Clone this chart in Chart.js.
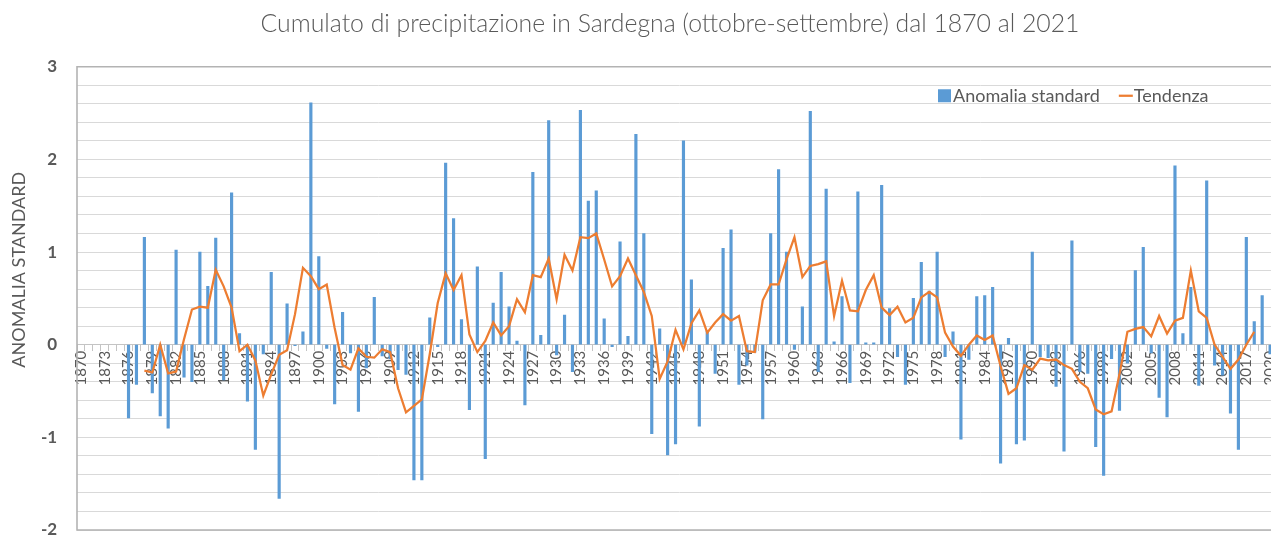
<!DOCTYPE html>
<html>
<head>
<meta charset="utf-8">
<script src="https://cdn.jsdelivr.net/npm/chart.js@4.4.0/dist/chart.umd.min.js"></script>
<style>
  html, body { margin: 0; padding: 0; background: #ffffff; overflow: hidden; }
  #wrap { width: 1340px; height: 547px; position: relative; }
</style>
</head>
<body>
<div id="wrap"><canvas id="c" width="1340" height="547"></canvas></div>
<script>
// ---------------- DATA ----------------
const years = [
  '1870','1871','1872','1873','1874','1875','1876','1877','1878','1879',
  '1880','1881','1882','1883','1884','1885','1886','1887','1888','1889',
  '1890','1891','1892','1893','1894','1895','1896','1897','1898','1899',
  '1900','1901','1902','1903','1904','1905','1906','1907','1908','1909',
  '1910','1911','1912','1913','1914','1915','1916','1917','1918','1919',
  '1920','1921','1922','1923','1924','1925','1926','1927','1928','1929',
  '1930','1931','1932','1933','1934','1935','1936','1937','1938','1939',
  '1940','1941','1942','1943','1944','1945','1946','1947','1948','1949',
  '1950','1951','1952','1953','1954','1955','1956','1957','1958','1959',
  '1960','1961','1962','1963','1964','1965','1966','1967','1968','1969',
  '1970','1971','1972','1973','1974','1975','1976','1977','1978','1979',
  '1980','1981','1982','1983','1984','1985','1986','1987','1988','1989',
  '1990','1991','1992','1993','1994','1995','1996','1997','1998','1999',
  '2000','2001','2002','2003','2004','2005','2006','2007','2008','2009',
  '2010','2011','2012','2013','2014','2015','2016','2017','2018','2019',
  '2020','2021'
];

// Anomalia standard, 1870 .. 2021 (null = no bar)
const anomaly = [
  null, null, null, null, null, null, -0.79, -0.43, 1.16, -0.52,
  -0.77, -0.90, 1.02, -0.35, -0.40, 1.00, 0.63, 1.15, -0.38, 1.64,
  0.12, -0.61, -1.13, -0.10, 0.78, -1.66, 0.44, -0.01, 0.14, 2.61,
  0.95, -0.04, -0.64, 0.35, -0.09, -0.72, -0.25, 0.51, -0.12, -0.15,
  -0.27, -0.32, -1.46, -1.46, 0.29, -0.02, 1.96, 1.36, 0.27, -0.70,
  0.84, -1.23, 0.45, 0.78, 0.41, 0.04, -0.65, 1.86, 0.10, 2.42,
  -0.11, 0.32, -0.29, 2.53, 1.55, 1.66, 0.28, -0.02, 1.11, 0.09,
  2.27, 1.20, -0.96, 0.17, -1.19, -1.07, 2.20, 0.70, -0.88, 0.15,
  -0.31, 1.04, 1.24, -0.43, -0.22, -0.08, -0.80, 1.20, 1.89, 1.00,
  -0.05, 0.41, 2.52, -0.29, 1.68, 0.03, 0.52, -0.41, 1.65, 0.02,
  0.02, 1.72, 0.39, -0.13, -0.43, 0.50, 0.89, 0.58, 1.00, -0.13,
  0.14, -1.02, -0.16, 0.52, 0.53, 0.62, -1.28, 0.07, -1.07, -1.03,
  1.00, -0.13, -0.14, -0.45, -1.15, 1.12, -0.29, -0.31, -1.10, -1.41,
  -0.15, -0.71, -0.20, 0.80, 1.05, -0.09, -0.57, -0.78, 1.93, 0.12,
  0.62, -0.44, 1.77, -0.22, -0.33, -0.74, -1.13, 1.16, 0.25, 0.53,
  -0.10, null
];

// Tendenza, 1870 .. 2021 (null = no point)
const trend = [
  null, null, null, null, null, null, null, null, -0.28, -0.30,
  0.00, -0.31, -0.29, 0.06, 0.38, 0.41, 0.40, 0.81, 0.63, 0.40,
  -0.07, 0.00, -0.17, -0.55, -0.32, -0.11, -0.06, 0.33, 0.83, 0.74,
  0.60, 0.65, 0.18, -0.22, -0.27, -0.04, -0.13, -0.14, -0.05, -0.08,
  -0.47, -0.73, -0.66, -0.59, -0.10, 0.45, 0.77, 0.59, 0.75, 0.11,
  -0.08, 0.04, 0.24, 0.10, 0.20, 0.49, 0.35, 0.75, 0.73, 0.93,
  0.49, 0.97, 0.80, 1.16, 1.15, 1.20, 0.92, 0.63, 0.74, 0.93,
  0.75, 0.57, 0.31, -0.37, -0.18, 0.16, -0.05, 0.23, 0.37, 0.13,
  0.24, 0.33, 0.26, 0.31, -0.07, -0.08, 0.48, 0.65, 0.65, 0.92,
  1.16, 0.73, 0.85, 0.87, 0.90, 0.31, 0.69, 0.37, 0.36, 0.59,
  0.75, 0.40, 0.32, 0.41, 0.24, 0.29, 0.51, 0.57, 0.51, 0.13,
  -0.02, -0.12, 0.00, 0.10, 0.05, 0.10, -0.23, -0.53, -0.47, -0.22,
  -0.27, -0.15, -0.17, -0.16, -0.22, -0.26, -0.40, -0.47, -0.70, -0.75,
  -0.72, -0.32, 0.14, 0.17, 0.19, 0.09, 0.31, 0.12, 0.26, 0.29,
  0.80, 0.36, 0.29, 0.00, -0.13, -0.26, -0.16, 0.00, 0.14, null,
  null, null
];

// Category labels that are printed on the x axis
const xTickLabels = [
  '1870','1873','1876','1879','1882','1885','1888','1891','1894','1897',
  '1900','1903','1906','1909','1912','1915','1918','1921','1924','1927',
  '1930','1933','1936','1939','1942','1945','1948','1951','1954','1957',
  '1960','1963','1966','1969','1972','1975','1978','1981','1984','1987',
  '1990','1993','1996','1999','2002','2005','2008','2011','2014','2017',
  '2020'
];
// Values printed on the y axis
const yTickLabels = [3, 2, 1, 0, -1, -2];

const titleText = 'Cumulato di precipitazione in Sardegna (ottobre-settembre) dal 1870 al 2021';
const yAxisTitle = 'ANOMALIA STANDARD';
const seriesBarName = 'Anomalia standard';
const seriesLineName = 'Tendenza';

// ---------------- STYLE ----------------
const TXT = '#595959';
const FONT = 'Lato, "Open Sans", "Liberation Sans", sans-serif';
const BLUE = '#5b9bd5';
const ORANGE = '#ed7d31';

// frame around plot area (left, top, bottom; right side lies outside the visible page)
const framePlugin = {
  id: 'frame',
  afterDraw(chart) {
    const {ctx, chartArea: a} = chart;
    ctx.save();
    ctx.strokeStyle = '#b3b3b3';
    ctx.lineWidth = 1.6;
    ctx.beginPath();
    ctx.moveTo(a.right, a.top);
    ctx.lineTo(a.left, a.top);
    ctx.lineTo(a.left, a.bottom);
    ctx.lineTo(a.right, a.bottom);
    ctx.stroke();
    ctx.restore();
  }
};

// rotated y-axis title
const yTitlePlugin = {
  id: 'yTitle',
  afterDraw(chart) {
    const {ctx, chartArea: a} = chart;
    ctx.save();
    ctx.translate(a.left - 58, a.top + 203);
    ctx.rotate(-Math.PI / 2);
    ctx.font = '18px ' + FONT;
    ctx.fillStyle = TXT;
    ctx.textAlign = 'center';
    ctx.textBaseline = 'middle';
    ctx.fillText(yAxisTitle, 0, 0);
    ctx.restore();
  }
};

// legend inside the plot area, top-right
const legendPlugin = {
  id: 'innerLegend',
  afterDraw(chart) {
    const {ctx, chartArea: a} = chart;
    const ds = chart.data.datasets;
    const bar = ds.find(d => d.type === 'bar');
    const line = ds.find(d => d.type === 'line');
    ctx.save();
    ctx.font = '18px ' + FONT;
    ctx.textBaseline = 'middle';
    ctx.textAlign = 'left';
    const cy = a.top + 29;
    let x = a.left + 861;
    ctx.fillStyle = bar.backgroundColor;
    ctx.fillRect(x, cy - 6.5, 13, 13);
    x += 15;
    ctx.fillStyle = TXT;
    ctx.fillText(bar.label, x, cy);
    x += ctx.measureText(bar.label).width + 19;
    ctx.strokeStyle = line.borderColor;
    ctx.lineWidth = 2.25;
    ctx.beginPath();
    ctx.moveTo(x, cy);
    ctx.lineTo(x + 14, cy);
    ctx.stroke();
    x += 15;
    ctx.fillText(line.label, x, cy);
    ctx.restore();
  }
};

const ctx = document.getElementById('c').getContext('2d');
new Chart(ctx, {
  type: 'bar',
  data: {
    labels: years,
    datasets: [
      {
        type: 'line',
        label: seriesLineName,
        data: trend,
        borderColor: ORANGE,
        backgroundColor: ORANGE,
        borderWidth: 2.25,
        pointRadius: 0,
        fill: false,
        tension: 0,
        order: 0
      },
      {
        type: 'bar',
        label: seriesBarName,
        data: anomaly,
        backgroundColor: BLUE,
        barThickness: 2.5,
        order: 1
      }
    ]
  },
  options: {
    responsive: false,
    animation: false,
    events: [],
    layout: { padding: { left: 58, right: 58, top: 0, bottom: 17 } },
    plugins: {
      legend: { display: false },
      tooltip: { enabled: false },
      title: {
        display: true,
        text: titleText,
        color: TXT,
        font: { family: FONT, size: 24.8, weight: '300' },
        padding: { top: 9, bottom: 28 }
      }
    },
    scales: {
      x: {
        position: { y: 0 },
        z: 1,
        grid: { drawOnChartArea: false, drawTicks: true, tickLength: 6, color: '#c4c4c4', offset: true },
        border: { display: true, color: '#c4c4c4', width: 1 },
        ticks: {
          autoSkip: false,
          minRotation: 90,
          maxRotation: 90,
          padding: 0,
          color: TXT,
          font: { family: FONT, size: 15 },
          callback(value) {
            const l = this.getLabelForValue(value);
            return xTickLabels.includes(l) ? l : '';
          }
        },
        afterFit(scale) { scale.height = 0; }
      },
      y: {
        min: -2,
        max: 3,
        ticks: {
          stepSize: 0.2,
          autoSkip: false,
          maxTicksLimit: 40,
          mirror: true,
          crossAlign: 'far',
          padding: -36,
          color: TXT,
          font: { family: FONT, size: 17, weight: 'bold' },
          callback(value) {
            const r = Math.round(value);
            return (Math.abs(value - r) < 1e-6 && yTickLabels.includes(r)) ? String(r) : '';
          }
        },
        grid: { color: '#d9d9d9', lineWidth: 1, drawTicks: false },
        border: { display: false },
        afterFit(scale) { scale.width = 19; }
      }
    }
  },
  plugins: [framePlugin, yTitlePlugin, legendPlugin]
});
</script>
</body>
</html>
